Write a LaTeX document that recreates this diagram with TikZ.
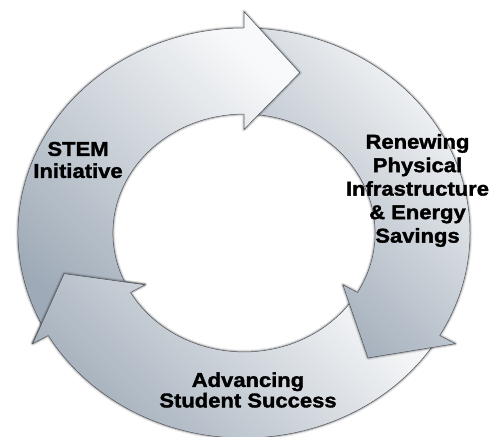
\documentclass[tikz,border=0pt]{standalone}
\usepackage{fontspec}
\usepackage{xcolor}
\usepackage{tikz}
\newfontfamily\cyclefont{Liberation Sans Bold}[FakeStretch=1.1, FakeBold=1.6]

\definecolor{ringlight}{RGB}{248,249,250}
\definecolor{ringdark}{RGB}{158,170,183}
\definecolor{ringedge}{RGB}{78,82,88}

\begin{document}
\begin{tikzpicture}[
    x=1pt, y=1pt,
    cyclearrow/.style={top color=ringlight, bottom color=ringdark, shading angle=-45, draw=ringedge, line width=0.5pt, line join=round,
        preaction={draw=black, opacity=0.08, line width=4.5pt, line join=round},
        preaction={draw=black, opacity=0.18, line width=2.4pt, line join=round}},
    cyclelabel/.style={font=\cyclefont\fontsize{20}{#1}\selectfont, align=center, inner sep=0pt, text=black},
    cyclelabel/.default=22
]
\useasboundingbox (0,0) rectangle (502,436);

% === RING OF ARROWS: lower, right, top ===
\begin{scope}[shift={(244,203)}, x=226pt, y=205pt]
\foreach \tail/\barb/\tip in {-33/-150/-166, 87/-30/-48, 207/90/72.5} {
    \path[cyclearrow] (\tail:1) arc[start angle=\tail, end angle=\barb, radius=1]
        -- (\barb:1.08) -- (\tip:0.82) -- (\barb:0.505) -- (\barb:0.58)
        arc[start angle=\barb, end angle=\tail, radius=0.58] -- cycle;
}
% lower arrow head once more, over the tail of the top arrow
\begin{scope}
\clip (210:0.4) -- (210:1.25) arc[start angle=210, end angle=180, radius=1.25] -- (180:0.4) -- cycle;
\path[cyclearrow] (-33:1) arc[start angle=-33, end angle=-150, radius=1]
    -- (-150:1.08) -- (-166:0.82) -- (-150:0.505) -- (-150:0.58)
    arc[start angle=-150, end angle=-33, radius=0.58] -- cycle;
\end{scope}
\end{scope}

% === LABELS ===
\node[cyclelabel] (stem) at (78,276) {STEM\\Initiative};
\node[cyclelabel=23.5] (renew) at (417.5,245.5) {Renewing\\Physical\\Infrastructure\\\& Energy\\Savings};
\node[cyclelabel=20.5] (advance) at (248,46) {Advancing\\Student Success};

\end{tikzpicture}
\end{document}
